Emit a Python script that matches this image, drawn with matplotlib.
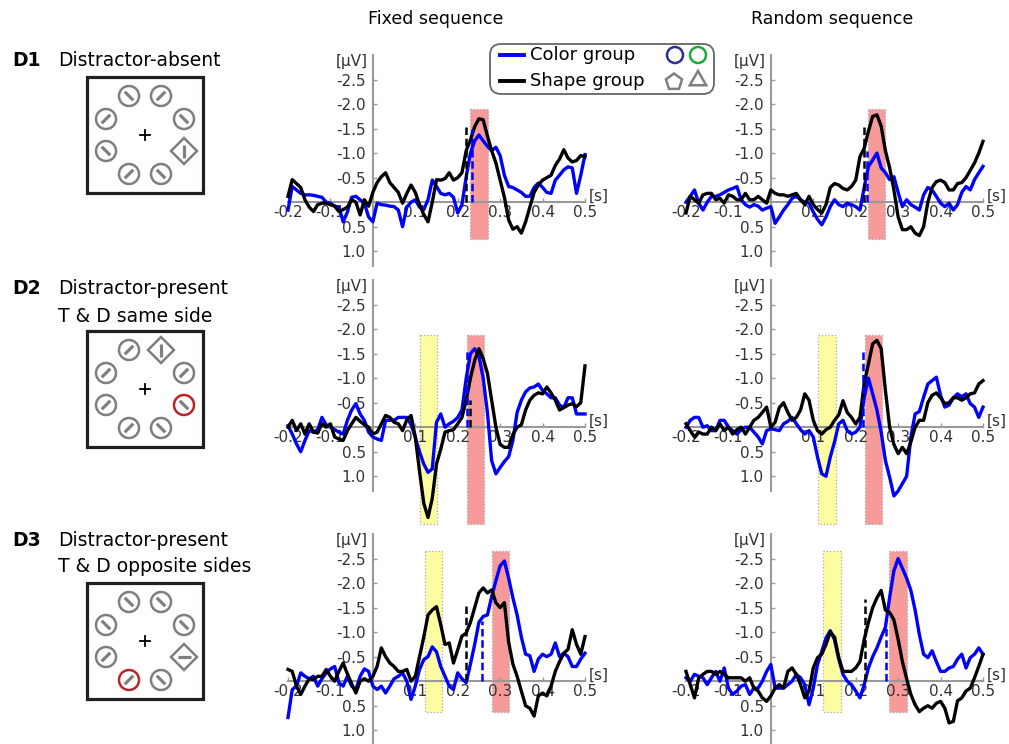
import numpy as np
import matplotlib
matplotlib.use('Agg')
import matplotlib.pyplot as plt
from matplotlib.patches import Rectangle, Circle, Polygon, FancyBboxPatch, RegularPolygon

plt.rcParams['font.family'] = ['DejaVu Sans']

# time grid (s)
t = np.round(np.arange(-0.2, 0.501, 0.01), 2)

# ---- ERP values (uV), negative plotted upward ----
fix_d1_color = [0.16, -0.32, -0.25, -0.18, -0.15, -0.15, -0.14, -0.12, -0.1, 0.0, 0.02, 0.08, 0.1, 0.4, 0.2,
                -0.1, -0.12, -0.05, 0.02, 0.3, 0.4, 0.02, 0.05, 0.06, 0.08, 0.09, 0.16, 0.5, 0.1, 0.0, -0.05,
                0.1, 0.15, -0.05, -0.45, -0.32, -0.18, -0.15, -0.18, -0.1, 0.22, 0.05, -0.52, -1.0, -1.25,
                -1.37, -1.25, -1.14, -1.05, -1.12, -0.95, -0.55, -0.32, -0.3, -0.25, -0.2, -0.12, -0.12,
                -0.3, -0.39, -0.3, -0.2, -0.18, -0.45, -0.55, -0.66, -0.72, -0.7, -0.18, -0.55, -0.97]
fix_d1_shape = [-0.12, -0.46, -0.38, -0.3, -0.05, 0.1, 0.19, 0.05, 0.02, 0.02, 0.05, 0.08, 0.19, 0.15, 0.1,
                -0.05, 0.0, 0.26, -0.05, 0.08, -0.2, -0.4, -0.52, -0.6, -0.4, -0.3, -0.2, 0.02, -0.18, -0.35,
                -0.2, 0.05, 0.25, 0.4, 0.0, -0.46, -0.45, -0.48, -0.6, -0.45, -0.5, -0.6, -1.05, -1.27, -1.54,
                -1.7, -1.68, -1.35, -1.05, -0.8, -0.45, -0.1, 0.36, 0.55, 0.5, 0.63, 0.4, 0.1, -0.2, -0.35,
                -0.45, -0.5, -0.55, -0.75, -0.88, -1.07, -0.9, -0.82, -0.85, -0.95, -0.93]
rnd_d1_color = [0.0, -0.12, -0.25, 0.02, 0.16, 0.0, -0.12, -0.12, -0.15, -0.2, -0.25, -0.28, -0.32, -0.05,
                0.05, 0.1, 0.05, 0.08, 0.16, 0.12, 0.09, 0.43, 0.3, 0.16, 0.05, -0.08, -0.12, -0.05, 0.0, 0.02,
                0.2, 0.35, 0.46, 0.3, 0.09, -0.05, 0.05, 0.09, 0.02, 0.05, 0.09, 0.16, -0.3, -0.73, -0.86, -1.0,
                -0.7, -0.6, -0.46, -0.52, -0.2, 0.09, -0.05, 0.05, 0.1, 0.16, -0.15, -0.3, -0.25, -0.12, 0.02,
                0.09, 0.02, 0.16, 0.05, -0.2, -0.32, -0.25, -0.46, -0.6, -0.73]
rnd_d1_shape = [0.22, -0.12, -0.05, 0.02, -0.15, -0.18, -0.18, -0.05, -0.08, 0.02, -0.15, -0.12, -0.05, -0.05,
                -0.18, -0.05, -0.05, -0.12, -0.05, 0.02, -0.25, -0.18, -0.15, -0.15, -0.12, -0.15, -0.18, -0.05,
                0.05, -0.12, 0.05, 0.15, 0.22, 0.05, -0.3, -0.38, -0.35, -0.28, -0.25, -0.32, -0.45, -0.93, -1.1,
                -1.45, -1.75, -1.78, -1.55, -1.05, -0.7, -0.25, 0.3, 0.56, 0.56, 0.5, 0.63, 0.68, 0.5, 0.0, -0.3,
                -0.42, -0.45, -0.4, -0.25, -0.25, -0.38, -0.4, -0.5, -0.65, -0.8, -1.0, -1.24]
fix_d2_color = [-0.03, 0.14, 0.34, 0.5, 0.27, 0.07, 0.1, 0.05, -0.2, -0.05, 0.0, 0.05, 0.1, 0.14, -0.14, -0.35,
                -0.48, -0.27, -0.14, 0.1, 0.2, 0.24, 0.27, -0.14, -0.14, -0.14, -0.2, -0.2, -0.2, -0.05, 0.2,
                0.5, 0.75, 0.92, 0.85, -0.1, -0.27, 0.0, -0.07, -0.12, -0.2, -0.35, -1.0, -1.5, -1.6, -1.45,
                -1.0, -0.3, 0.68, 0.95, 0.82, 0.7, 0.6, 0.27, -0.3, -0.55, -0.72, -0.8, -0.82, -0.88, -0.75,
                -0.68, -0.6, -0.6, -0.45, -0.4, -0.6, -0.6, -0.27, -0.27, -0.27]
fix_d2_shape = [0.0, -0.14, 0.07, -0.07, 0.14, -0.07, 0.1, 0.12, -0.07, 0.0, -0.07, 0.2, 0.24, 0.27, 0.07,
                -0.07, -0.2, -0.12, -0.05, 0.0, 0.14, 0.1, -0.07, -0.24, -0.2, -0.1, -0.07, 0.07, -0.15, -0.24,
                0.2, 0.9, 1.55, 1.84, 1.45, 0.75, 0.45, 0.1, 0.07, 0.05, -0.07, -0.2, -0.55, -1.0, -1.36, -1.6,
                -1.4, -1.1, -0.55, 0.0, 0.35, 0.41, 0.41, 0.15, 0.0, -0.05, -0.35, -0.55, -0.65, -0.7, -0.68,
                -0.82, -0.7, -0.55, -0.35, -0.4, -0.45, -0.48, -0.42, -0.5, -1.25]
rnd_d2_color = [0.0, -0.14, -0.2, -0.2, 0.0, -0.03, 0.07, 0.07, -0.14, -0.14, 0.0, 0.07, 0.14, 0.05, 0.0, 0.0,
                0.1, 0.2, 0.34, 0.07, 0.03, 0.05, 0.07, -0.07, -0.12, -0.2, -0.07, 0.05, 0.14, 0.07, 0.2, 0.61,
                0.95, 1.0, 0.61, 0.3, -0.07, -0.14, 0.07, 0.14, 0.1, 0.0, -0.6, -1.0, -0.68, -0.35, 0.1, 0.68,
                1.02, 1.4, 1.3, 1.15, 1.0, 0.2, -0.27, -0.32, -0.61, -0.88, -0.95, -1.02, -0.65, -0.41, -0.45,
                -0.6, -0.68, -0.62, -0.68, -0.48, -0.41, -0.2, -0.41]
rnd_d2_shape = [-0.07, 0.07, 0.2, 0.1, 0.14, 0.14, 0.0, 0.07, -0.07, 0.07, 0.0, 0.14, 0.05, 0.0, 0.14, 0.0,
                -0.14, -0.2, -0.3, -0.41, 0.0, -0.1, -0.4, -0.5, -0.3, -0.14, -0.2, -0.35, -0.68, -0.55, -0.14,
                0.07, 0.14, 0.05, 0.0, -0.14, -0.25, -0.54, -0.3, -0.2, -0.07, -0.2, -0.9, -1.29, -1.7, -1.77,
                -1.6, -0.75, 0.0, 0.35, 0.54, 0.41, 0.54, 0.3, 0.0, -0.14, -0.14, -0.5, -0.65, -0.7, -0.6,
                -0.48, -0.5, -0.6, -0.6, -0.55, -0.6, -0.68, -0.7, -0.88, -0.95]
fix_d3_color = [0.74, 0.17, 0.1, -0.17, -0.1, -0.05, -0.1, 0.1, -0.05, -0.17, -0.25, -0.3, 0.03, 0.1, -0.1,
                0.1, 0.17, -0.1, -0.25, -0.2, 0.1, 0.17, 0.1, 0.24, 0.1, -0.05, -0.1, -0.17, 0.0, 0.37, 0.1,
                -0.24, -0.44, -0.5, -0.7, -0.6, -0.3, -0.1, 0.1, 0.17, -0.17, -0.05, 0.03, -0.35, -0.75, -1.2,
                -1.32, -1.35, -1.72, -2.05, -2.35, -2.45, -2.1, -1.7, -1.35, -0.9, -0.55, -0.52, -0.2, -0.45,
                -0.55, -0.5, -0.55, -0.78, -0.5, -0.57, -0.5, -0.3, -0.3, -0.45, -0.57]
fix_d3_shape = [-0.24, -0.2, 0.1, 0.27, 0.1, -0.05, -0.03, -0.1, -0.1, -0.24, -0.1, 0.0, -0.2, -0.37, -0.15,
                0.05, 0.24, 0.0, -0.05, 0.0, -0.1, -0.3, -0.68, -0.5, -0.37, -0.3, -0.2, -0.2, -0.24, 0.0, -0.1,
                -0.5, -0.9, -1.35, -1.45, -1.52, -1.15, -0.75, -0.78, -0.37, -0.64, -0.92, -0.98, -1.2, -1.5,
                -1.8, -1.9, -1.8, -1.86, -1.6, -1.5, -1.6, -0.8, -0.35, -0.1, 0.2, 0.5, 0.55, 0.71, 0.3, 0.24,
                0.3, 0.1, -0.2, -0.4, -0.57, -0.65, -1.05, -0.75, -0.55, -0.91]
rnd_d3_color = [-0.07, 0.0, -0.14, -0.1, -0.07, 0.07, -0.07, -0.2, 0.0, -0.27, 0.14, 0.27, 0.2, 0.1, 0.07,
                0.27, 0.14, 0.14, 0.0, -0.2, -0.34, 0.14, 0.14, 0.14, 0.07, 0.0, -0.14, -0.07, 0.07, 0.48, 0.14,
                -0.34, -0.61, -0.88, -1.03, -0.85, -0.45, -0.14, 0.0, 0.07, 0.2, 0.34, 0.07, -0.27, -0.5, -0.68,
                -0.9, -1.1, -1.71, -2.25, -2.5, -2.3, -2.1, -1.85, -1.45, -0.95, -0.55, -0.48, -0.62, -0.4, -0.2,
                -0.2, -0.27, -0.3, -0.45, -0.55, -0.27, -0.48, -0.55, -0.68, -0.55]
rnd_d3_shape = [-0.2, 0.07, 0.34, -0.07, -0.14, -0.2, -0.2, -0.14, -0.2, -0.14, -0.07, -0.07, -0.07, -0.07,
                0.0, -0.07, 0.14, 0.2, 0.34, 0.41, 0.3, 0.14, 0.07, 0.14, -0.2, -0.27, -0.14, 0.07, 0.34, 0.2,
                -0.27, -0.48, -0.55, -0.75, -1.0, -0.9, -0.48, -0.2, -0.2, -0.2, -0.27, -0.4, -0.85, -1.2, -1.5,
                -1.7, -1.85, -1.45, -1.4, -1.25, -0.85, -0.4, -0.05, 0.27, 0.48, 0.62, 0.55, 0.5, 0.55, 0.45,
                0.41, 0.55, 0.85, 0.82, 0.4, 0.34, 0.2, 0.14, -0.07, -0.3, -0.55]

# shaded windows (s) and vertical extent (uV) per row
yellow_win = [None, (0.11, 0.15), (0.123, 0.163)]
red_win = [(0.229, 0.271), (0.222, 0.262), (0.28, 0.32)]
yellow_win_rnd = [None, (0.11, 0.153), (0.123, 0.165)]
red_win_rnd = [(0.229, 0.27), (0.221, 0.263), (0.278, 0.32)]
win_yrange = [(-1.9, 0.74), (-1.88, 1.98), (-2.66, 0.63)]

# onset markers (latency s, height uV): (color, shape)
fix_onsets = [((0.233, -1.5), (0.219, -1.6)), ((0.222, -1.56), (0.229, -0.55)), ((0.258, -1.22), (0.219, -1.6))]
rnd_onsets = [((0.227, -1.05), (0.219, -1.58)), ((0.218, -1.56), None), ((0.271, -1.1), (0.223, -1.68))]

xticks = [-0.2, -0.1, 0.1, 0.2, 0.3, 0.4, 0.5]
xticklabels = ['-0.2', '-0.1', '0.1', '0.2', '0.3', '0.4', '0.5']
yticks = [-2.5, -2.0, -1.5, -1.0, -0.5, 0.5, 1.0]
yticklabels = ['-2.5', '-2.0', '-1.5', '-1.0', '-0.5', '0.5', '1.0']

row_codes = ['D1', 'D2', 'D3']
row_texts = [['Distractor-absent'], ['Distractor-present', 'T & D same side'],
             ['Distractor-present', 'T & D opposite sides']]
# search display items: clockwise from top-left; c=grey circle, r=red circle, d=diamond
displays = [[('c', '\\'), ('c', '/'), ('c', '\\'), ('d', '|'), ('c', '\\'), ('c', '/'), ('c', '\\'), ('c', '/')],
            [('c', '/'), ('d', '|'), ('c', '/'), ('r', '\\'), ('c', '\\'), ('c', '/'), ('c', '/'), ('c', '/')],
            [('c', '\\'), ('c', '\\'), ('c', '\\'), ('d', '-'), ('c', '\\'), ('r', '/'), ('c', '/'), ('c', '\\')]]

BLUE = '#0000ff'
AXC = '#999999'
TXT = '#333333'
W, H = 1009, 744

fig = plt.figure(figsize=(W / 100, H / 100), dpi=100)

fixed = [fix_d1_color, fix_d1_shape, fix_d2_color, fix_d2_shape, fix_d3_color, fix_d3_shape]
random_ = [rnd_d1_color, rnd_d1_shape, rnd_d2_color, rnd_d2_shape, rnd_d3_color, rnd_d3_shape]
row_top = [55, 280, 534]
col_left = [288, 686]


def erp_panel(ax, color_v, shape_v, ywin, rwin, yr, onsets):
    ax.set_xlim(-0.2, 0.5)
    ax.set_ylim(1.3, -3.0)
    ax.patch.set_alpha(0)
    for s in ['top', 'right']:
        ax.spines[s].set_visible(False)
    ax.spines['left'].set_position(('data', 0))
    ax.spines['bottom'].set_position(('data', 0))
    for s in ['left', 'bottom']:
        ax.spines[s].set_color(AXC)
        ax.spines[s].set_linewidth(1.5)
    ax.set_xticks(xticks)
    ax.set_xticklabels(xticklabels)
    ax.set_yticks(yticks)
    ax.set_yticklabels(yticklabels)
    ax.tick_params(axis='both', direction='in', length=3, width=1, color=AXC,
                   labelsize=11, labelcolor=TXT, pad=2)
    ax.tick_params(axis='y', pad=5)
    for win, col in [(ywin, '#fdfca0'), (rwin, '#f69a9a')]:
        if win is None:
            continue
        ax.add_patch(Rectangle((win[0], yr[0]), win[1] - win[0], yr[1] - yr[0], facecolor=col,
                               edgecolor='#aaaaaa', linestyle=':', linewidth=0.9, zorder=1, clip_on=False))
    ax.plot(t, color_v, color=BLUE, lw=2.4, zorder=3, clip_on=False)
    ax.plot(t, shape_v, color='black', lw=2.4, zorder=3.1, clip_on=False)
    for on, col in zip(onsets, [BLUE, 'black']):
        if on is None:
            continue
        ax.plot([on[0], on[0]], [0, on[1]], color=col, lw=1.8, ls=(0, (3, 1.5)), zorder=3.2)
    ax.text(-0.012, -3.03, '[\u00b5V]', ha='right', va='top', fontsize=11, color=TXT)
    ax.text(0.508, 0.04, '[s]', ha='left', va='bottom', fontsize=11, color=TXT)


for r in range(3):
    for c, (data, yw, rw, ons) in enumerate([(fixed, yellow_win, red_win, fix_onsets),
                                              (random_, yellow_win_rnd, red_win_rnd, rnd_onsets)]):
        ax = fig.add_axes([col_left[c] / W, 1 - (row_top[r] + 211) / H, 297 / W, 211 / H])
        erp_panel(ax, data[2 * r], data[2 * r + 1], yw[r], rw[r], win_yrange[r], ons[r])

# overlay for stimulus displays, labels and legend
ov = fig.add_axes([0, 0, 1, 1], zorder=10)
ov.set_xlim(0, W)
ov.set_ylim(H, 0)
ov.axis('off')
ov.patch.set_alpha(0)

ov.text(436, 19, 'Fixed sequence', ha='center', va='center', fontsize=12.5)
ov.text(832, 19, 'Random sequence', ha='center', va='center', fontsize=12.5)

label_y = [[61], [289, 317], [541, 566]]
box_cy = [135, 389, 641]
offsets = [(-16, -39), (16, -39), (39, -16), (39, 16), (16, 39), (-16, 39), (-39, 16), (-39, -16)]
slant = {'/': (0.707, -0.707), '\\': (0.707, 0.707), '|': (0, 1), '-': (1, 0)}
GREY = '#7f7f7f'
for r in range(3):
    ov.text(12, label_y[r][0], row_codes[r], ha='left', va='center', fontsize=13.5, fontweight='bold')
    for line, yy in zip(row_texts[r], label_y[r]):
        ov.text(58, yy, line, ha='left', va='center', fontsize=13.5)
    cy = box_cy[r]
    ov.add_patch(Rectangle((87, cy - 58), 116, 116, facecolor='white', edgecolor='#231f20', lw=2.3))
    ov.plot([140, 150], [cy, cy], color='black', lw=1.3)
    ov.plot([145, 145], [cy - 5, cy + 5], color='black', lw=1.3)
    for (kind, ori), (dx, dy) in zip(displays[r], offsets):
        x0, y0 = 145 + dx, cy + dy
        ux, uy = slant[ori]
        if kind == 'd':
            ov.add_patch(Polygon([(x0, y0 - 13), (x0 + 13, y0), (x0, y0 + 13), (x0 - 13, y0)],
                                 closed=True, facecolor='none', edgecolor=GREY, lw=1.8))
            L = 6.5
        else:
            col = '#b8262b' if kind == 'r' else GREY
            ov.add_patch(Circle((x0, y0), 10, facecolor='none', edgecolor=col, lw=1.8))
            L = 6
        ov.plot([x0 - L * ux, x0 + L * ux], [y0 - L * uy, y0 + L * uy], color=GREY, lw=2.3,
                solid_capstyle='butt')

# legend
ov.add_patch(FancyBboxPatch((490, 44), 224, 50, boxstyle='round,pad=0,rounding_size=11',
                            facecolor='white', edgecolor='#666666', lw=1.3))
ov.plot([500, 524], [55, 55], color=BLUE, lw=2.8)
ov.plot([500, 524], [81, 81], color='black', lw=2.8)
ov.text(530, 55, 'Color group', ha='left', va='center', fontsize=13)
ov.text(530, 81, 'Shape group', ha='left', va='center', fontsize=13)
ov.add_patch(Circle((675, 55), 8, facecolor='none', edgecolor='#2e3192', lw=1.8))
ov.add_patch(Circle((698, 55), 8, facecolor='none', edgecolor='#22a83a', lw=1.8))
ov.add_patch(RegularPolygon((674, 82), 5, radius=8.5, orientation=np.pi, facecolor='none',
                            edgecolor=GREY, lw=1.8))
ov.add_patch(RegularPolygon((698, 80.5), 3, radius=9.5, orientation=np.pi, facecolor='none',
                            edgecolor=GREY, lw=1.8))

fig.savefig('out.png', dpi=100)
